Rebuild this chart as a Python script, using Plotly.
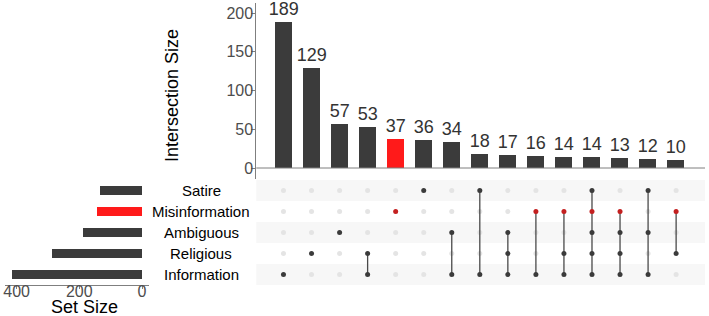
import plotly.graph_objects as go

W, H = 709, 316

sets = ["Satire", "Misinformation", "Ambiguous", "Religious", "Information"]
set_sizes = [133, 143, 187, 286, 416]
intersection_sizes = [189, 129, 57, 53, 37, 36, 34, 18, 17, 16, 14, 14, 13, 12, 10]
intersection_members = [
    ["Information"],
    ["Religious"],
    ["Ambiguous"],
    ["Religious", "Information"],
    ["Misinformation"],
    ["Satire"],
    ["Ambiguous", "Information"],
    ["Satire", "Information"],
    ["Ambiguous", "Religious", "Information"],
    ["Misinformation", "Information"],
    ["Misinformation", "Religious", "Information"],
    ["Satire", "Misinformation", "Ambiguous", "Religious", "Information"],
    ["Misinformation", "Ambiguous", "Religious", "Information"],
    ["Satire", "Ambiguous", "Information"],
    ["Misinformation", "Religious"],
]
highlight_set = "Misinformation"
intersection_ticks = [0, 50, 100, 150, 200]
set_size_ticks = [0, 200, 400]

DARK = "#3b3b3b"
RED = "#ff1a1a"
DOT_RED = "#c42020"
EMPTY = "#e4e4e4"
STRIPE = "#f7f7f7"
FONT = "Liberation Sans, Arial, Helvetica, sans-serif"

def px_x(p):
    return p / W

def px_y(p):
    return 1 - p / H

# row index: Information 0 ... Satire 4
row_of = {s: len(sets) - 1 - i for i, s in enumerate(sets)}
cols = list(range(1, len(intersection_sizes) + 1))

fig = go.Figure()

# main intersection bars
bar_colors = [RED if m == [highlight_set] else DARK for m in intersection_members]
fig.add_trace(go.Bar(
    x=cols, y=intersection_sizes, width=0.6,
    marker=dict(color=bar_colors, line=dict(width=0)),
    text=[str(v) for v in intersection_sizes], textposition="outside",
    constraintext="none",
    textfont=dict(size=18, color="#333333", family=FONT),
    cliponaxis=False, xaxis="x", yaxis="y", showlegend=False, hoverinfo="skip",
))

# matrix: empty dots
ex, ey, fx, fy, fc = [], [], [], [], []
for c, members in zip(cols, intersection_members):
    for s in sets:
        if s in members:
            fx.append(c); fy.append(row_of[s])
            fc.append(DOT_RED if s == highlight_set else DARK)
        else:
            ex.append(c); ey.append(row_of[s])

fig.add_trace(go.Scatter(
    x=ex, y=ey, mode="markers", marker=dict(size=5, color=EMPTY),
    xaxis="x2", yaxis="y2", showlegend=False, hoverinfo="skip",
))
# connecting lines
for c, members in zip(cols, intersection_members):
    if len(members) > 1:
        rows = [row_of[s] for s in members]
        fig.add_trace(go.Scatter(
            x=[c, c], y=[min(rows), max(rows)], mode="lines",
            line=dict(color="#4a4a4a", width=1.3),
            xaxis="x2", yaxis="y2", showlegend=False, hoverinfo="skip",
        ))
fig.add_trace(go.Scatter(
    x=fx, y=fy, mode="markers", marker=dict(size=5, color=fc),
    xaxis="x2", yaxis="y2", showlegend=False, hoverinfo="skip",
))

# set size bars
set_colors = [RED if s == highlight_set else DARK for s in sets]
fig.add_trace(go.Bar(
    x=set_sizes, y=[row_of[s] for s in sets], orientation="h", width=0.45,
    marker=dict(color=set_colors, line=dict(width=0)),
    xaxis="x3", yaxis="y3", showlegend=False, hoverinfo="skip",
))

shapes = []
# stripes
for s in sets:
    r = row_of[s]
    if r % 2 == 0:
        shapes.append(dict(type="rect", xref="paper", yref="y2",
                           x0=px_x(255), x1=px_x(705), y0=r - 0.5, y1=r + 0.5,
                           fillcolor=STRIPE, line=dict(width=0), layer="below"))
# baseline at 0
shapes.append(dict(type="line", xref="paper", yref="y", x0=px_x(255), x1=px_x(705),
                   y0=0, y1=0, line=dict(color="#7f7f7f", width=1)))

annotations = []
for s in sets:
    annotations.append(dict(text=s, x=px_x(200), y=row_of[s], xref="paper", yref="y2",
                            showarrow=False, xanchor="center", yanchor="middle",
                            font=dict(size=15, color="black", family=FONT)))
annotations.append(dict(text="Intersection Size", x=px_x(170), y=px_y(95.5),
                        xref="paper", yref="paper", textangle=-90, showarrow=False,
                        xanchor="center", yanchor="middle",
                        font=dict(size=18, color="black", family=FONT)))
annotations.append(dict(text="Set Size", x=px_x(82.5), y=px_y(306.5),
                        xref="paper", yref="paper", showarrow=False,
                        xanchor="center", yanchor="middle",
                        font=dict(size=18, color="black", family=FONT)))

tickfont = dict(size=16, color="#4d4d4d", family=FONT)

fig.update_layout(
    width=W, height=H, margin=dict(l=0, r=0, t=0, b=0),
    paper_bgcolor="white", plot_bgcolor="rgba(0,0,0,0)",
    font=dict(family=FONT),
    bargap=0,
    shapes=shapes, annotations=annotations,
    xaxis=dict(domain=[px_x(255), px_x(705)], range=[0.03, 16.03], anchor="y",
               showticklabels=False, showgrid=False, zeroline=False, ticks=""),
    yaxis=dict(domain=[px_y(179), px_y(3)], range=[-14.2, 213], anchor="x",
               tickvals=intersection_ticks, ticks="outside", ticklen=4, tickcolor="#7f7f7f",
               ticklabelstandoff=-5,
               showline=True, linecolor="#7f7f7f", linewidth=1,
               showgrid=False, zeroline=False, tickfont=tickfont),
    xaxis2=dict(domain=[px_x(255), px_x(705)], range=[0.03, 16.03], anchor="y2",
                showticklabels=False, showgrid=False, zeroline=False),
    yaxis2=dict(domain=[px_y(285), px_y(180)], range=[-0.5, 4.5], anchor="x2",
                showticklabels=False, showgrid=False, zeroline=False),
    xaxis3=dict(domain=[px_x(3), px_x(147)], range=[437, -21], anchor="y3",
                tickvals=set_size_ticks, ticks="outside", ticklen=3, tickcolor="#7f7f7f",
                ticklabelstandoff=-11,
                showline=True, linecolor="#7f7f7f", linewidth=1,
                showgrid=False, zeroline=False, tickfont=tickfont),
    yaxis3=dict(domain=[px_y(285), px_y(180)], range=[-0.5, 4.5], anchor="x3",
                showticklabels=False, showgrid=False, zeroline=False),
)

fig.write_html("out.html", config={"displayModeBar": False},
               post_script="document.body.style.margin='0';document.body.style.overflow='hidden';")
